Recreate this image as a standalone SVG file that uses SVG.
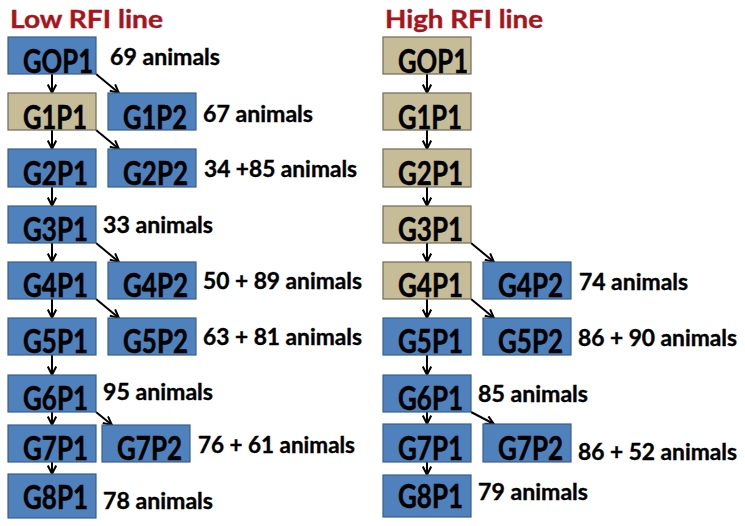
<svg xmlns="http://www.w3.org/2000/svg" width="745" height="526" viewBox="0 0 745 526">
<defs>
<marker id="ah" viewBox="0 0 10 10" refX="9.5" refY="5" markerWidth="10" markerHeight="10" markerUnits="userSpaceOnUse" orient="auto">
<path d="M1,0.8 L9.3,5 L1,9.2" fill="none" stroke="#000" stroke-width="2"/>
</marker>
</defs>
<style>
.b{fill:#4f81bd;stroke:#3a5f8b;stroke-width:1.2}
.t{fill:#c6bd98;stroke:#6f6b55;stroke-width:1.2}
.n{font-family:Lato,"Open Sans",sans-serif;font-weight:bold;font-size:32px;fill:#000;stroke:#000;stroke-width:0.5}
.a{font-family:Lato,"Open Sans",sans-serif;font-weight:bold;font-size:23px;fill:#000;stroke:#000;stroke-width:0.4}
.h{font-family:Lato,"Open Sans",sans-serif;font-weight:bold;font-size:25px;fill:#a8141c;stroke:#a8141c;stroke-width:0.4}
.c{stroke:#000;stroke-width:2;fill:none;marker-end:url(#ah)}
</style>
<text class="h" x="10" y="28" textLength="153" lengthAdjust="spacingAndGlyphs">Low RFI line</text>
<text class="h" x="385" y="28" textLength="158" lengthAdjust="spacingAndGlyphs">High RFI line</text>
<g id="connectors">
<line class="c" x1="52" y1="74" x2="52" y2="93"/>
<line class="c" x1="52" y1="130" x2="52" y2="149"/>
<line class="c" x1="52" y1="187" x2="52" y2="206"/>
<line class="c" x1="52" y1="243" x2="52" y2="262"/>
<line class="c" x1="52" y1="299" x2="52" y2="318"/>
<line class="c" x1="52" y1="355" x2="52" y2="375"/>
<line class="c" x1="52" y1="412" x2="52" y2="425"/>
<line class="c" x1="52" y1="462" x2="52" y2="474"/>
<line class="c" x1="96" y1="74" x2="119" y2="93"/>
<line class="c" x1="96" y1="130" x2="119" y2="149"/>
<line class="c" x1="96" y1="243" x2="119" y2="262"/>
<line class="c" x1="96" y1="299" x2="119" y2="318"/>
<line class="c" x1="96" y1="412" x2="112" y2="425"/>
<line class="c" x1="427" y1="74" x2="427" y2="93"/>
<line class="c" x1="427" y1="130" x2="427" y2="149"/>
<line class="c" x1="427" y1="187" x2="427" y2="206"/>
<line class="c" x1="427" y1="243" x2="427" y2="262"/>
<line class="c" x1="427" y1="299" x2="427" y2="318"/>
<line class="c" x1="427" y1="355" x2="427" y2="375"/>
<line class="c" x1="427" y1="412" x2="427" y2="424"/>
<line class="c" x1="427" y1="462" x2="427" y2="475"/>
<line class="c" x1="471" y1="243" x2="494" y2="262"/>
<line class="c" x1="471" y1="299" x2="494" y2="318"/>
<line class="c" x1="471" y1="412" x2="494" y2="424"/>
</g>
<g id="L-GOP1"><rect class="b" x="8" y="37" width="88" height="37"/><text class="n" x="23" y="73" textLength="70" lengthAdjust="spacingAndGlyphs">GOP1</text></g>
<g id="L-G1P1"><rect class="t" x="8" y="93" width="88" height="37"/><text class="n" x="23" y="129" textLength="64" lengthAdjust="spacingAndGlyphs">G1P1</text></g>
<g id="L-G2P1"><rect class="b" x="8" y="149" width="88" height="38"/><text class="n" x="23" y="185" textLength="65" lengthAdjust="spacingAndGlyphs">G2P1</text></g>
<g id="L-G3P1"><rect class="b" x="8" y="206" width="88" height="37"/><text class="n" x="23" y="241" textLength="65" lengthAdjust="spacingAndGlyphs">G3P1</text></g>
<g id="L-G4P1"><rect class="b" x="8" y="262" width="88" height="37"/><text class="n" x="23" y="297" textLength="65" lengthAdjust="spacingAndGlyphs">G4P1</text></g>
<g id="L-G5P1"><rect class="b" x="8" y="318" width="88" height="37"/><text class="n" x="23" y="353" textLength="65" lengthAdjust="spacingAndGlyphs">G5P1</text></g>
<g id="L-G6P1"><rect class="b" x="8" y="375" width="88" height="37"/><text class="n" x="23" y="410" textLength="65" lengthAdjust="spacingAndGlyphs">G6P1</text></g>
<g id="L-G7P1"><rect class="b" x="8" y="425" width="88" height="37"/><text class="n" x="23" y="460" textLength="65" lengthAdjust="spacingAndGlyphs">G7P1</text></g>
<g id="L-G8P1"><rect class="b" x="8" y="474" width="88" height="44"/><text class="n" x="23" y="509" textLength="65" lengthAdjust="spacingAndGlyphs">G8P1</text></g>
<g id="L-G1P2"><rect class="b" x="108" y="93" width="88" height="37"/><text class="n" x="123" y="129" textLength="64" lengthAdjust="spacingAndGlyphs">G1P2</text></g>
<g id="L-G2P2"><rect class="b" x="108" y="149" width="88" height="38"/><text class="n" x="123" y="185" textLength="65" lengthAdjust="spacingAndGlyphs">G2P2</text></g>
<g id="L-G4P2"><rect class="b" x="108" y="262" width="88" height="37"/><text class="n" x="123" y="297" textLength="65" lengthAdjust="spacingAndGlyphs">G4P2</text></g>
<g id="L-G5P2"><rect class="b" x="108" y="318" width="88" height="37"/><text class="n" x="123" y="353" textLength="65" lengthAdjust="spacingAndGlyphs">G5P2</text></g>
<g id="L-G7P2"><rect class="b" x="102" y="425" width="88" height="37"/><text class="n" x="117" y="460" textLength="65" lengthAdjust="spacingAndGlyphs">G7P2</text></g>
<g id="R-GOP1"><rect class="t" x="383" y="37" width="88" height="37"/><text class="n" x="398" y="73" textLength="70" lengthAdjust="spacingAndGlyphs">GOP1</text></g>
<g id="R-G1P1"><rect class="t" x="383" y="93" width="88" height="37"/><text class="n" x="398" y="129" textLength="64" lengthAdjust="spacingAndGlyphs">G1P1</text></g>
<g id="R-G2P1"><rect class="t" x="383" y="149" width="88" height="38"/><text class="n" x="398" y="185" textLength="65" lengthAdjust="spacingAndGlyphs">G2P1</text></g>
<g id="R-G3P1"><rect class="t" x="383" y="206" width="88" height="37"/><text class="n" x="398" y="241" textLength="65" lengthAdjust="spacingAndGlyphs">G3P1</text></g>
<g id="R-G4P1"><rect class="t" x="383" y="262" width="88" height="37"/><text class="n" x="398" y="297" textLength="65" lengthAdjust="spacingAndGlyphs">G4P1</text></g>
<g id="R-G5P1"><rect class="b" x="383" y="318" width="88" height="37"/><text class="n" x="398" y="353" textLength="65" lengthAdjust="spacingAndGlyphs">G5P1</text></g>
<g id="R-G6P1"><rect class="b" x="383" y="375" width="88" height="37"/><text class="n" x="398" y="410" textLength="65" lengthAdjust="spacingAndGlyphs">G6P1</text></g>
<g id="R-G7P1"><rect class="b" x="383" y="424" width="88" height="38"/><text class="n" x="398" y="460" textLength="65" lengthAdjust="spacingAndGlyphs">G7P1</text></g>
<g id="R-G8P1"><rect class="b" x="383" y="475" width="88" height="42"/><text class="n" x="398" y="508" textLength="65" lengthAdjust="spacingAndGlyphs">G8P1</text></g>
<g id="R-G4P2"><rect class="b" x="483" y="262" width="88" height="37"/><text class="n" x="498" y="297" textLength="65" lengthAdjust="spacingAndGlyphs">G4P2</text></g>
<g id="R-G5P2"><rect class="b" x="483" y="318" width="88" height="37"/><text class="n" x="498" y="353" textLength="65" lengthAdjust="spacingAndGlyphs">G5P2</text></g>
<g id="R-G7P2"><rect class="b" x="483" y="424" width="88" height="38"/><text class="n" x="498" y="460" textLength="65" lengthAdjust="spacingAndGlyphs">G7P2</text></g>
<g id="labels">
<text class="a" x="110" y="65" textLength="110" lengthAdjust="spacingAndGlyphs">69 animals</text>
<text class="a" x="203" y="122" textLength="110" lengthAdjust="spacingAndGlyphs">67 animals</text>
<text class="a" x="204" y="177" textLength="153" lengthAdjust="spacingAndGlyphs">34 +85 animals</text>
<text class="a" x="103" y="233" textLength="110" lengthAdjust="spacingAndGlyphs">33 animals</text>
<text class="a" x="203" y="289" textLength="159" lengthAdjust="spacingAndGlyphs">50 + 89 animals</text>
<text class="a" x="203" y="345" textLength="159" lengthAdjust="spacingAndGlyphs">63 + 81 animals</text>
<text class="a" x="103" y="400" textLength="110" lengthAdjust="spacingAndGlyphs">95 animals</text>
<text class="a" x="198" y="453" textLength="157" lengthAdjust="spacingAndGlyphs">76 + 61 animals</text>
<text class="a" x="103" y="509" textLength="110" lengthAdjust="spacingAndGlyphs">78 animals</text>
<text class="a" x="579" y="290" textLength="109" lengthAdjust="spacingAndGlyphs">74 animals</text>
<text class="a" x="578" y="346" textLength="159" lengthAdjust="spacingAndGlyphs">86 + 90 animals</text>
<text class="a" x="478" y="402" textLength="110" lengthAdjust="spacingAndGlyphs">85 animals</text>
<text class="a" x="578" y="460" textLength="159" lengthAdjust="spacingAndGlyphs">86 + 52 animals</text>
<text class="a" x="478" y="500" textLength="110" lengthAdjust="spacingAndGlyphs">79 animals</text>
</g>
</svg>
